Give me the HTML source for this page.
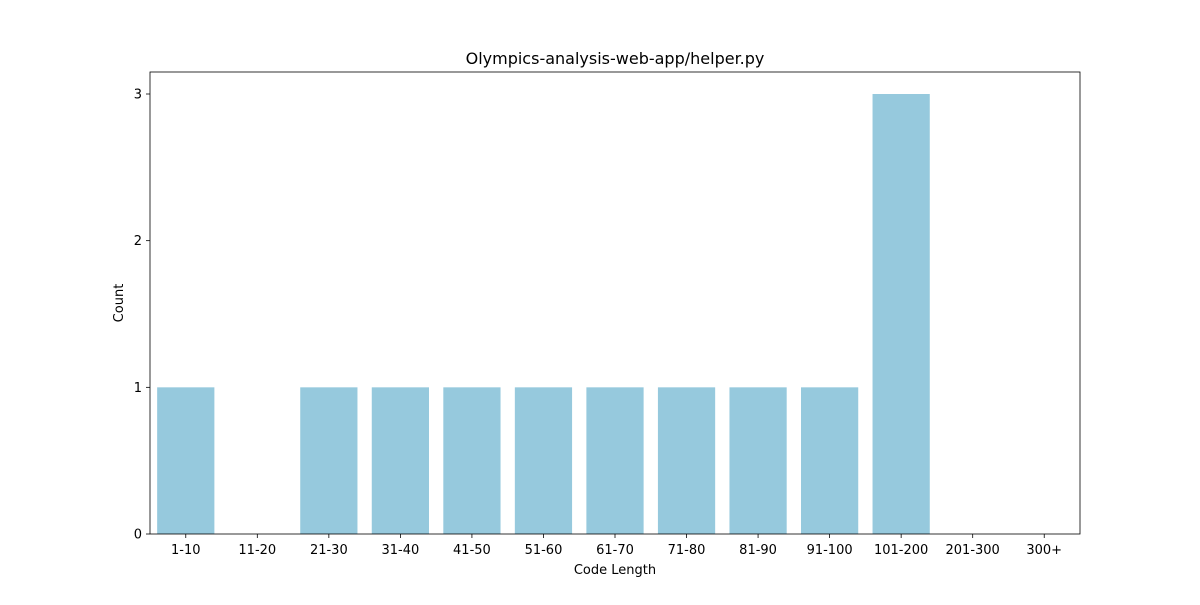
<!DOCTYPE html>
<html><head><meta charset="utf-8"><style>
body{margin:0;background:#fff;}
svg text{font-family:"DejaVu Sans","Liberation Sans",sans-serif;fill:#000;}
</style></head><body>
<svg id="chart" width="1200" height="600" xmlns="http://www.w3.org/2000/svg">
<rect width="1200" height="600" fill="#fff"/>
<text x="615" y="64" font-size="16" text-anchor="middle">Olympics-analysis-web-app/helper.py</text>
<g id="bars"></g>
<g id="axes"></g>
<text x="615" y="574" font-size="13" text-anchor="middle">Code Length</text>
<text x="123" y="303" font-size="13" text-anchor="middle" transform="rotate(-90 123 303)">Count</text>
</svg>
<script>
const categories = ["1-10","11-20","21-30","31-40","41-50","51-60","61-70","71-80","81-90","91-100","101-200","201-300","300+"];
const counts = [1,0,1,1,1,1,1,1,1,1,3,0,0];
const yTicks = [0,1,2,3];
const NS="http://www.w3.org/2000/svg";
const L=150,R=1080,T=72,B=534,yMax=3.15;
const band=(R-L)/categories.length;
const xC=i=>L+band*(i+0.5);
const y=v=>B-(v/yMax)*(B-T);
const bars=document.getElementById('bars'), axes=document.getElementById('axes');
function mk(tag,attrs,parent){const e=document.createElementNS(NS,tag);for(const k in attrs)e.setAttribute(k,attrs[k]);parent.appendChild(e);return e;}
categories.forEach((c,i)=>{
  const v=counts[i];
  const r=mk('rect',{x:xC(i)-band*0.4,y:y(v),width:band*0.8,height:B-y(v),fill:'#96c9dd'},bars);
  
  
  mk('line',{x1:xC(i),x2:xC(i),y1:B,y2:B+4,stroke:'#000','stroke-width':0.8},axes);
  const t=mk('text',{x:xC(i),y:B+20,'font-size':13,'text-anchor':'middle'},axes);
  t.textContent=c;
  
  
});
yTicks.forEach(v=>{
  mk('line',{x1:L-4,x2:L,y1:y(v),y2:y(v),stroke:'#000','stroke-width':0.8},axes);
  const t=mk('text',{x:L-8,y:y(v)+4.5,'font-size':13,'text-anchor':'end'},axes);
  t.textContent=v;
  
  
});
const f=mk('rect',{x:L,y:T,width:R-L,height:B-T,fill:'none',stroke:'#000','stroke-width':0.8},axes);


</script>
</body></html>
